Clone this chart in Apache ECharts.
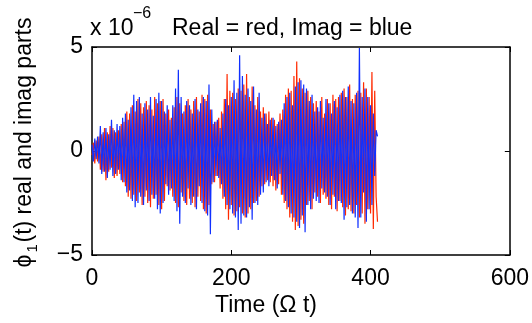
<!DOCTYPE html>
<html>
<head>
<meta charset="utf-8">
<script src="https://cdn.jsdelivr.net/npm/echarts@6/dist/echarts.min.js"></script>
<style>
html,body{margin:0;padding:0;background:#fff;}
#c{width:532px;height:323px;}
</style>
</head>
<body>
<div id="c"></div>
<script>
// Sampling step of the time series (Omega t units)
const sampleStep = 2;
const xTicks = [0, 200, 400, 600];
const yTicks = [-5, 0, 5];
const titleText = 'Real = red, Imag = blue';
const multiplierText = 'x 10';
const multiplierExp = '\u22126';
const xAxisName = 'Time (\u03A9 t)';

// Imaginary part (blue), units of 1e-6, t = 0,2,4,...,410
const imagPart = [
  0.3,-0.5,0.6,-0.4,0.7,-0.6,1.2,-1.1,0.9,-1.0,
  1.1,-1.3,0.8,-0.9,1.5,-1.2,1.0,-1.1,1.3,-0.9,
  1.2,-1.4,1.6,-1.5,1.8,-2.0,1.5,-1.9,2.1,-2.4,
  2.7,-2.7,2.4,-2.5,2.6,-2.2,1.8,-2.6,2.3,-1.9,
  2.0,-2.4,2.6,-2.1,1.7,-2.3,2.5,-2.8,2.8,-3.0,
  2.4,-2.5,1.9,-1.6,2.2,-2.1,1.5,-1.8,2.2,-2.4,
  3.0,-2.9,3.9,-3.5,2.6,-2.2,1.9,-2.5,2.4,-1.8,
  2.2,-2.6,1.8,-2.2,2.5,-2.8,2.0,-1.7,2.3,-2.5,
  2.6,-2.9,2.4,-3.1,3.2,-4.0,2.0,-1.5,1.4,-1.2,
  1.5,-1.3,1.1,-1.6,1.8,-2.2,2.5,-2.6,2.2,-2.8,
  2.6,-3.0,3.4,-3.2,2.8,-3.8,4.6,-3.5,3.6,-3.1,
  2.7,-3.2,3.0,-2.7,2.4,-3.3,3.1,-2.5,2.0,-2.6,
  2.8,-2.1,1.6,-2.0,1.8,-1.5,1.3,-1.7,1.5,-1.2,
  1.6,-1.4,1.2,-1.8,1.4,-1.1,1.5,-2.1,2.3,-2.4,
  2.6,-2.7,2.8,-3.0,2.2,-3.2,3.1,-3.4,3.3,-3.7,
  3.4,-3.1,3.2,-3.9,3.0,-2.6,2.4,-2.8,2.7,-2.3,
  1.9,-2.4,2.1,-2.5,2.4,-1.8,1.6,-2.0,2.5,-2.2,
  2.3,-2.6,1.8,-2.1,2.4,-2.8,2.1,-2.4,2.7,-2.5,
  2.9,-3.3,2.6,-2.7,3.1,-2.6,2.4,-3.0,2.3,-3.2,
  2.8,-3.7,4.95,-3.2,2.6,-2.0,3.0,-3.4,2.6,-2.8,
  2.2,-2.6,1.8,-1.2,1.0,0.7
];

// Real part (red), units of 1e-6, t = 0,2,4,...,410
const realPart = [
  -0.2,0.4,-0.6,0.5,-0.5,0.7,-0.9,0.8,-1.0,1.1,
  -1.4,0.9,-1.0,1.2,-0.8,1.1,-1.3,0.9,-1.2,1.0,
  -1.1,1.3,-1.5,1.4,-1.7,1.9,-2.2,1.8,-2.3,2.2,
  -2.1,1.9,-2.4,2.5,-2.0,2.3,-2.6,2.1,-2.2,2.4,
  -2.5,2.2,-2.7,2.0,-2.3,2.6,-2.1,2.3,-2.6,2.4,
  -2.8,2.5,-2.4,1.8,-1.7,2.0,-1.9,1.6,-2.2,2.1,
  -2.5,2.6,-2.7,2.3,-2.0,1.8,-2.4,2.2,-2.6,2.5,
  -2.3,2.0,-2.5,2.4,-2.7,2.6,-2.2,1.9,-2.4,2.7,
  -2.8,2.5,-3.0,2.7,-2.6,2.0,-1.6,1.3,-1.5,1.4,
  -1.2,1.6,-1.8,1.9,-2.3,2.5,-2.8,3.7,-3.3,2.9,
  -2.6,2.8,-3.1,2.5,-2.9,3.0,-2.7,2.9,-3.0,3.2,
  -3.2,3.7,-3.0,2.6,-2.8,3.1,-2.5,2.2,-2.4,2.6,
  -2.2,1.9,-1.7,2.1,-1.6,1.8,-1.4,1.9,-1.5,1.6,
  -1.7,1.5,-1.9,1.3,-1.6,1.8,-2.1,2.0,-2.5,2.7,
  -2.8,3.0,-3.2,2.9,-3.4,3.6,-3.8,4.3,-3.6,3.5,
  -3.3,3.0,-3.5,2.8,-2.6,2.9,-2.4,2.6,-2.8,2.3,
  -2.0,2.4,-2.2,1.9,-2.5,2.6,-2.1,1.8,-2.3,2.5,
  -2.6,2.3,-2.8,2.7,-2.2,2.5,-2.9,2.6,-2.4,2.8,
  -2.7,3.0,-3.1,2.6,-2.8,3.2,-2.9,2.5,-3.0,2.7,
  -2.6,2.9,-3.2,2.8,-3.0,3.3,-3.5,3.0,-2.8,2.6,
  -3.0,3.8,-3.75,2.9,-2.2,-3.4
];

const FONT = 'Liberation Sans, Arial, Helvetica, sans-serif';
const pairs = arr => arr.map((v, i) => [i * sampleStep, v]);
const minus = v => (v < 0 ? '\u2212' + Math.abs(v) : String(v));

const chart = echarts.init(document.getElementById('c'), null, {renderer: 'canvas'});

const axisCommon = {
  type: 'value',
  splitLine: {show: false},
  axisLine: {show: true, onZero: false, lineStyle: {color: '#000', width: 1.5}},
  axisTick: {show: true, inside: true, length: 5, lineStyle: {color: '#000', width: 1}}
};

chart.setOption({
  animation: false,
  backgroundColor: '#fff',
  grid: {left: 92, right: 19, top: 47, bottom: 68, containLabel: false},
  xAxis: [
    Object.assign({}, axisCommon, {
      position: 'bottom', min: xTicks[0], max: xTicks[xTicks.length - 1], interval: 200,
      axisLabel: {show: true, margin: 12, color: '#000', fontSize: 23, fontFamily: FONT,
        showMinLabel: true, showMaxLabel: true}
    }),
    Object.assign({}, axisCommon, {
      position: 'top', min: xTicks[0], max: xTicks[xTicks.length - 1], interval: 200,
      axisLabel: {show: false}
    })
  ],
  yAxis: [
    Object.assign({}, axisCommon, {
      position: 'left', min: yTicks[0], max: yTicks[yTicks.length - 1], interval: 5,
      axisLabel: {show: true, margin: 9, color: '#000', fontSize: 23, fontFamily: FONT,
        formatter: minus, showMinLabel: true, showMaxLabel: true}
    }),
    Object.assign({}, axisCommon, {
      position: 'right', min: yTicks[0], max: yTicks[yTicks.length - 1], interval: 5,
      axisLabel: {show: false}
    })
  ],
  series: [
    {type: 'line', data: pairs(realPart), showSymbol: false, symbol: 'none',
      lineStyle: {color: '#ff2a00', width: 1.2}, itemStyle: {color: '#ff2a00'}, z: 2},
    {type: 'line', data: pairs(imagPart), showSymbol: false, symbol: 'none',
      lineStyle: {color: '#1030ff', width: 1.2}, itemStyle: {color: '#1030ff'}, z: 3}
  ],
  graphic: [
    {type: 'text', left: 172, top: 17, style: {text: titleText, fill: '#000', font: '23px ' + FONT}},
    {type: 'text', left: 90, top: 17, style: {text: multiplierText, fill: '#000', font: '23px ' + FONT}},
    {type: 'text', left: 133, top: 6, style: {text: multiplierExp, fill: '#000', font: '16px ' + FONT}},
    {type: 'text', left: 'center', top: 294, style: {text: xAxisName, fill: '#000', font: '23px ' + FONT}},
    {
      type: 'group', x: 25, y: 138.5, rotation: Math.PI / 2,
      children: [
        {type: 'text', x: -129, y: 0, style: {text: '\u03D5', fill: '#000', font: '23px ' + FONT, verticalAlign: 'middle', align: 'left'}},
        {type: 'text', x: -114, y: 8, style: {text: '1', fill: '#000', font: '15px ' + FONT, verticalAlign: 'middle', align: 'left'}},
        {type: 'text', x: -104, y: 0, style: {text: '(t) real and imag parts', fill: '#000', font: '23px ' + FONT, verticalAlign: 'middle', align: 'left'}}
      ]
    }
  ]
});
</script>
</body>
</html>
